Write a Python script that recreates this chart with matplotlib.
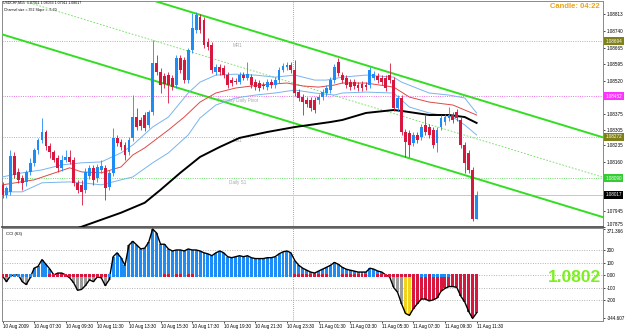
import numpy as np
import matplotlib
matplotlib.use("Agg")
import matplotlib.pyplot as plt
import matplotlib.transforms as mtransforms

plt.rcParams.update({
    "font.family": ["Liberation Sans", "DejaVu Sans"],
    "font.size": 3.3,
})

# -------------------------
# Data: USDCHF M15, bars from 10 Aug 05:30 to 11 Aug 11:30
# -------------------------
opens = [1.08061, 1.08017, 1.08030, 1.08189, 1.08118, 1.08092, 1.08074, 1.08118, 1.08158, 1.08215,
         1.08259, 1.08294, 1.08233, 1.08206, 1.08180, 1.08136, 1.08171, 1.08184, 1.08171, 1.08070,
         1.08061, 1.08039, 1.08101, 1.08136, 1.08092, 1.08127, 1.08136, 1.08052, 1.08114, 1.08268,
         1.08250, 1.08237, 1.08206, 1.08268, 1.08360, 1.08347, 1.08369, 1.08325, 1.08382, 1.08598,
         1.08558, 1.08541, 1.08545, 1.08532, 1.08501, 1.08620, 1.08611, 1.08523, 1.08655, 1.08743,
         1.08800, 1.08787, 1.08690, 1.08677, 1.08558, 1.08580, 1.08576, 1.08545, 1.08523, 1.08519,
         1.08514, 1.08545, 1.08532, 1.08536, 1.08514, 1.08510, 1.08501, 1.08492, 1.08514, 1.08501,
         1.08523, 1.08567, 1.08580, 1.08589, 1.08567, 1.08470, 1.08448, 1.08435, 1.08435, 1.08435,
         1.08435, 1.08448, 1.08466, 1.08479, 1.08523, 1.08602, 1.08545, 1.08532, 1.08514, 1.08514,
         1.08501, 1.08505, 1.08501, 1.08501, 1.08532, 1.08541, 1.08532, 1.08532, 1.08545, 1.08523,
         1.08400, 1.08444, 1.08294, 1.08290, 1.08246, 1.08281, 1.08272, 1.08325, 1.08316, 1.08303,
         1.08246, 1.08316, 1.08338, 1.08356, 1.08369, 1.08382, 1.08347, 1.08237, 1.08202, 1.08127,
         1.07911]
highs = [1.08074, 1.08057, 1.08215, 1.08206, 1.08136, 1.08105, 1.08127, 1.08180, 1.08224, 1.08268,
         1.08356, 1.08303, 1.08246, 1.08215, 1.08193, 1.08193, 1.08215, 1.08215, 1.08184, 1.08083,
         1.08083, 1.08136, 1.08149, 1.08149, 1.08153, 1.08171, 1.08149, 1.08127, 1.08312, 1.08281,
         1.08263, 1.08250, 1.08272, 1.08457, 1.08400, 1.08360, 1.08382, 1.08391, 1.08699, 1.08633,
         1.08576, 1.08554, 1.08558, 1.08545, 1.08633, 1.08633, 1.08624, 1.08664, 1.08818, 1.08822,
         1.08813, 1.08800, 1.08708, 1.08690, 1.08593, 1.08593, 1.08589, 1.08558, 1.08536, 1.08532,
         1.08558, 1.08558, 1.08602, 1.08549, 1.08527, 1.08523, 1.08514, 1.08527, 1.08527, 1.08536,
         1.08580, 1.08598, 1.08602, 1.08602, 1.08611, 1.08483, 1.08461, 1.08448, 1.08448, 1.08448,
         1.08461, 1.08483, 1.08501, 1.08536, 1.08593, 1.08620, 1.08558, 1.08545, 1.08527, 1.08527,
         1.08514, 1.08519, 1.08514, 1.08580, 1.08563, 1.08554, 1.08545, 1.08545, 1.08598, 1.08536,
         1.08457, 1.08457, 1.08307, 1.08303, 1.08294, 1.08294, 1.08329, 1.08369, 1.08329, 1.08316,
         1.08316, 1.08369, 1.08373, 1.08404, 1.08382, 1.08395, 1.08360, 1.08250, 1.08215, 1.08140,
         1.08033]
lows = [1.08004, 1.08004, 1.08017, 1.08092, 1.08070, 1.08039, 1.08057, 1.08105, 1.08145, 1.08197,
        1.08246, 1.08215, 1.08180, 1.08162, 1.08118, 1.08123, 1.08162, 1.08153, 1.08057, 1.08026,
        1.07973, 1.08026, 1.08087, 1.08061, 1.08074, 1.08114, 1.07995, 1.08039, 1.08101, 1.08233,
        1.08215, 1.08171, 1.08193, 1.08255, 1.08303, 1.08303, 1.08299, 1.08312, 1.08369, 1.08545,
        1.08466, 1.08488, 1.08422, 1.08479, 1.08488, 1.08554, 1.08510, 1.08510, 1.08642, 1.08730,
        1.08730, 1.08664, 1.08655, 1.08554, 1.08545, 1.08545, 1.08532, 1.08488, 1.08497, 1.08505,
        1.08505, 1.08523, 1.08523, 1.08488, 1.08479, 1.08475, 1.08483, 1.08479, 1.08488, 1.08488,
        1.08510, 1.08558, 1.08567, 1.08554, 1.08453, 1.08431, 1.08369, 1.08404, 1.08387, 1.08378,
        1.08417, 1.08435, 1.08453, 1.08466, 1.08510, 1.08541, 1.08510, 1.08488, 1.08479, 1.08483,
        1.08475, 1.08475, 1.08479, 1.08488, 1.08523, 1.08510, 1.08501, 1.08475, 1.08510, 1.08387,
        1.08387, 1.08281, 1.08184, 1.08184, 1.08233, 1.08246, 1.08259, 1.08281, 1.08268, 1.08224,
        1.08206, 1.08303, 1.08325, 1.08343, 1.08334, 1.08343, 1.08224, 1.08114, 1.08114, 1.07900,
        1.07911]
closes = [1.08017, 1.08048, 1.08189, 1.08105, 1.08083, 1.08070, 1.08118, 1.08158, 1.08215, 1.08259,
          1.08294, 1.08233, 1.08206, 1.08171, 1.08136, 1.08171, 1.08184, 1.08162, 1.08070, 1.08039,
          1.08030, 1.08118, 1.08136, 1.08083, 1.08140, 1.08145, 1.08048, 1.08114, 1.08268, 1.08246,
          1.08228, 1.08193, 1.08259, 1.08360, 1.08316, 1.08321, 1.08312, 1.08382, 1.08598, 1.08558,
          1.08501, 1.08505, 1.08501, 1.08492, 1.08620, 1.08567, 1.08523, 1.08655, 1.08752, 1.08809,
          1.08743, 1.08677, 1.08668, 1.08567, 1.08580, 1.08558, 1.08545, 1.08501, 1.08510, 1.08514,
          1.08545, 1.08532, 1.08549, 1.08501, 1.08492, 1.08488, 1.08497, 1.08514, 1.08501, 1.08523,
          1.08567, 1.08585, 1.08589, 1.08567, 1.08466, 1.08444, 1.08426, 1.08417, 1.08400, 1.08391,
          1.08448, 1.08470, 1.08488, 1.08523, 1.08580, 1.08554, 1.08523, 1.08501, 1.08492, 1.08497,
          1.08488, 1.08488, 1.08492, 1.08567, 1.08549, 1.08523, 1.08514, 1.08488, 1.08523, 1.08400,
          1.08444, 1.08294, 1.08250, 1.08237, 1.08281, 1.08259, 1.08316, 1.08294, 1.08281, 1.08237,
          1.08303, 1.08356, 1.08360, 1.08369, 1.08347, 1.08356, 1.08237, 1.08158, 1.08127, 1.07911,
          1.08017]

# moving averages (bar index, price)
red_ma_idx = [0, 8, 17, 20, 25, 30, 33, 36, 42, 46, 50, 54, 59, 65, 72, 76, 80, 84, 86, 92, 99, 103, 108, 114, 117, 120]
red_ma = [1.08061, 1.08083, 1.08136, 1.08118, 1.08114, 1.08140, 1.08193, 1.08224, 1.08303, 1.08360,
          1.08426, 1.08466, 1.08488, 1.08501, 1.08510, 1.08497, 1.08492, 1.08501, 1.08510, 1.08510,
          1.08492, 1.08448, 1.08426, 1.08413, 1.08391, 1.08369]
env_up_idx = [0, 5, 10, 15, 20, 25, 30, 33, 38, 42, 47, 50, 54, 59, 64, 69, 74, 79, 82, 86, 92, 99, 101, 108, 113, 117, 120]
env_up = [1.08096, 1.08114, 1.08127, 1.08149, 1.08158, 1.08162, 1.08202, 1.08237, 1.08316, 1.08360,
          1.08466, 1.08514, 1.08545, 1.08549, 1.08545, 1.08536, 1.08545, 1.08523, 1.08523, 1.08536,
          1.08545, 1.08536, 1.08514, 1.08466, 1.08457, 1.08444, 1.08378]
env_dn_idx = [0, 5, 10, 17, 20, 25, 30, 33, 38, 42, 47, 50, 54, 59, 64, 69, 74, 79, 84, 86, 92, 99, 103, 108, 114, 117, 120]
env_dn = [1.08030, 1.08030, 1.08070, 1.08074, 1.08070, 1.08061, 1.08083, 1.08096, 1.08158, 1.08202,
          1.08281, 1.08356, 1.08413, 1.08444, 1.08457, 1.08466, 1.08479, 1.08466, 1.08457, 1.08466,
          1.08470, 1.08466, 1.08404, 1.08378, 1.08360, 1.08325, 1.08281]
slow_ma_idx = [14, 20, 25, 30, 36, 40, 45, 50, 55, 60, 67, 74, 83, 86, 92, 99, 101, 108, 113, 117, 120]
slow_ma = [1.07841, 1.07876, 1.07907, 1.07938, 1.07982, 1.08039, 1.08114, 1.08184, 1.08228, 1.08268,
           1.08294, 1.08316, 1.08338, 1.08347, 1.08378, 1.08391, 1.08387, 1.08369, 1.08369, 1.08360,
           1.08334]

# regression channel
channel_mid_start = 1.08900   # middle line at bar 0
channel_slope = -0.0000530    # -5.30 points per bar
channel_size = 0.00352        # 352 points
channel_end_bar = 152

# pivot levels
levels = [1.08694, 1.08452, 1.08272, 1.08090]
level_names = ["MR1", "Tuesday Daily Pivot", "MS1", "Daily S1"]
level_colors = ["#b0a040", "#e040e0", "#b0a040", "#3ccf3c"]
level_label_bg = ["#808018", "#ff33ff", "#808018", "#33cc33"]
current_price = 1.08017

price_ticks = [1.08813, 1.08740, 1.08665, 1.08595, 1.08520, 1.08375, 1.08305,
               1.08235, 1.08160, 1.07945, 1.07875]

# CCI(63)
cci = [-4, -50, -4, 4, 4, -50, -73, -19, 58, 73,
       127, 89, 50, 4, 19, 19, 4, -19, -58, -119,
       -112, -81, -35, -50, -12, -19, -81, -35, 150, 181,
       142, 81, 243, 273, 243, 212, 219, 266, 371.366, 340,
       250, 250, 212, 196, 204, 204, 196, 212, 204, 204,
       196, 181, 173, 158, 181, 196, 181, 150, 142, 150,
       158, 150, 158, 142, 135, 135, 135, 142, 142, 150,
       173, 189, 196, 181, 119, 81, 58, 42, 27, 19,
       35, 50, 65, 81, 104, 89, 65, 50, 42, 35,
       27, 27, 27, 58, 50, 35, 27, 4, -12, -96,
       -135, -227, -304, -320, -266, -227, -189, -189, -204, -196,
       -181, -127, -104, -89, -89, -96, -166, -212, -289, -344.607,
       -300]
# trend marker colour on the zero line (run lengths)
trend_runs = [("r", 2), ("b", 10), ("r", 15), ("b", 14), ("r", 2), ("b", 1), ("r", 2), ("b", 1),
              ("r", 2), ("b", 25), ("r", 9), ("b", 3), ("r", 7), ("b", 2), ("r", 11), ("b", 2),
              ("r", 1), ("b", 5), ("r", 7)]
# colour of negative histogram bars (run lengths)
neg_runs = [("gray", 102), ("yellow", 2), ("red", 17)]
cci_ticks = [371.366, 200, 100, 0, -100, -200, -344.607]
cci_tick_labels = ["371.366", "200", "100", "0.00", "-100", "-200", "-344.607"]

time_bars = [0, 8, 16, 24, 32, 40, 48, 56, 64, 72, 80, 88, 96, 104, 112, 120]
time_labels = ["10 Aug 2009", "10 Aug 07:30", "10 Aug 09:30", "10 Aug 11:30", "10 Aug 13:30",
               "10 Aug 15:30", "10 Aug 17:30", "10 Aug 19:30", "10 Aug 21:30", "10 Aug 23:30",
               "11 Aug 01:30", "11 Aug 03:30", "11 Aug 05:30", "11 Aug 07:30", "11 Aug 09:30",
               "11 Aug 11:30"]
day_break_bar = 73.5

# -------------------------
# Colours
# -------------------------
BLUE = "#1e8cf5"
RED = "#d8173f"
LIME = "#33dd22"
NEG_COLORS = {"gray": "#9c9c9c", "yellow": "#f2d21a", "red": RED}

# -------------------------
# Layout (pixel exact)
# -------------------------
W, H = 625, 329
fig = plt.figure(figsize=(W / 100, H / 100), dpi=100)
fig.patch.set_facecolor("white")
ax = fig.add_axes([2 / W, 1 - 227 / H, 601 / W, 226.5 / H])
ax2 = fig.add_axes([2 / W, 1 - 321 / H, 601 / W, 93 / H])

xlim = (-0.13, 152.0)

# -------------------------
# Main price panel
# -------------------------
idx = np.arange(len(closes))
o = np.array(opens); h = np.array(highs); l = np.array(lows); c = np.array(closes)
cols = np.where(c >= o, BLUE, RED)
ax.vlines(idx, l, h, colors=cols, lw=0.6, zorder=5)
ax.bar(idx, np.maximum(np.abs(c - o), 0.00002), bottom=np.minimum(o, c),
       width=0.72, color=cols, lw=0, zorder=6)

ax.plot(env_up_idx, env_up, color="#78b4ee", lw=0.7, zorder=4)
ax.plot(env_dn_idx, env_dn, color="#78b4ee", lw=0.7, zorder=4)
ax.plot(red_ma_idx, red_ma, color="#e04848", lw=0.7, zorder=4)
ax.plot(slow_ma_idx, slow_ma, color="black", lw=1.4, zorder=4)

ch_x = np.array([0, channel_end_bar])
ch_mid = channel_mid_start + channel_slope * ch_x
ax.plot(ch_x, ch_mid + channel_size / 2, color=LIME, lw=1.4, zorder=3)
ax.plot(ch_x, ch_mid - channel_size / 2, color=LIME, lw=1.4, zorder=3)
ax.plot(ch_x, ch_mid, color="#66dd55", lw=0.6, ls=(0, (2, 2)), zorder=3)

trans = mtransforms.blended_transform_factory(ax.transAxes, ax.transData)
for val, name, colr, bg in zip(levels, level_names, level_colors, level_label_bg):
    ax.axhline(val, color=colr, lw=0.55, ls=(0, (1.2, 1.8)), zorder=2)
    ax.text(59.5, val - 0.00006, name, ha="center", va="top", color="#a8a8a8", fontsize=3.3, zorder=2)
    ax.text(1.004, val, f"{val:.5f}", transform=trans, ha="left", va="center", color="white",
            fontsize=3.3, clip_on=False,
            bbox=dict(boxstyle="square,pad=0.3", fc=bg, ec="none"))
ax.axhline(current_price, color="#c8c8c8", lw=0.7, zorder=2)
ax.text(1.004, current_price, f"{current_price:.5f}", transform=trans, ha="left", va="center",
        color="white", fontsize=3.3, clip_on=False,
        bbox=dict(boxstyle="square,pad=0.3", fc="black", ec="none"))

ax.set_xlim(*xlim)
ax.set_ylim(1.07875, 1.08874)
ax.set_xticks([])
ax.set_yticks(price_ticks)
ax.set_yticklabels([f"{v:.5f}" for v in price_ticks])
ax.tick_params(axis="y", left=False, right=True, labelleft=False, labelright=True,
               length=1.5, width=0.5, pad=1, labelsize=3.3)
ax.get_yticklabels()[-1].set_va("bottom")

# -------------------------
# CCI panel
# -------------------------
trend = [t for t, n in trend_runs for _ in range(n)]
neg_kind = [k for k, n in neg_runs for _ in range(n)]
hist_cols = [BLUE if v >= 0 else NEG_COLORS[neg_kind[i]] for i, v in enumerate(cci)]

for v in [200, 100, 0, -100, -200]:
    ax2.axhline(v, color="#9a9a9a", lw=0.55, ls=(0, (1.2, 2)), zorder=0)
ax2.bar(idx, cci, width=0.75, color=hist_cols, lw=0, zorder=2)
ax2.plot(idx, cci, color="black", lw=1.0, zorder=3)
ax2.bar(idx, 28, bottom=-14, width=0.75,
        color=[RED if t == "r" else BLUE for t in trend], lw=0, zorder=4)

ax2.set_xlim(*xlim)
ax2.set_ylim(-365, 380)
ax2.set_yticks(cci_ticks)
ax2.set_yticklabels(cci_tick_labels)
ax2.tick_params(axis="y", left=False, right=True, labelleft=False, labelright=True,
                length=1.5, width=0.5, pad=1, labelsize=3.3)
ax2.get_yticklabels()[0].set_va("top")
ax2.set_xticks(time_bars)
ax2.set_xticklabels(time_labels, ha="left")
ax2.tick_params(axis="x", length=1.5, width=0.5, pad=1, labelsize=3.3)

ax2.text(0.006, 0.96, "CCI (63)", transform=ax2.transAxes, ha="left", va="top", fontsize=3.1)
ax2.text(0.997, 0.47, "1.0802", transform=ax2.transAxes, ha="right", va="center",
         fontsize=12.5, fontweight="bold", color="#7cf01e")

for a in (ax, ax2):
    a.axvline(day_break_bar, color="#8c8c8c", lw=0.6, ls=(0, (1, 1.5)), zorder=1)
    for s in a.spines.values():
        s.set_color("#8a8a8a")
        s.set_linewidth(0.7)
ax.spines["bottom"].set_color("#505050")
ax.spines["bottom"].set_linewidth(1.3)

# -------------------------
# Header texts
# -------------------------
fig.text(3 / W, 1 - 1 / H, "USDCHF,M15  1.07911 1.08033 1.07911 1.08017",
         ha="left", va="top", fontsize=2.5)
fig.text(4 / W, 1 - 8 / H, "Channel size = 352 Slope = -5.30",
         ha="left", va="top", fontsize=2.5)
fig.text(600 / W, 1 - 7 / H, "Candle: 04:22", ha="right", va="center",
         fontsize=5.5, fontweight="bold", color="#e8a317")

fig.savefig("out.png", dpi=100)
